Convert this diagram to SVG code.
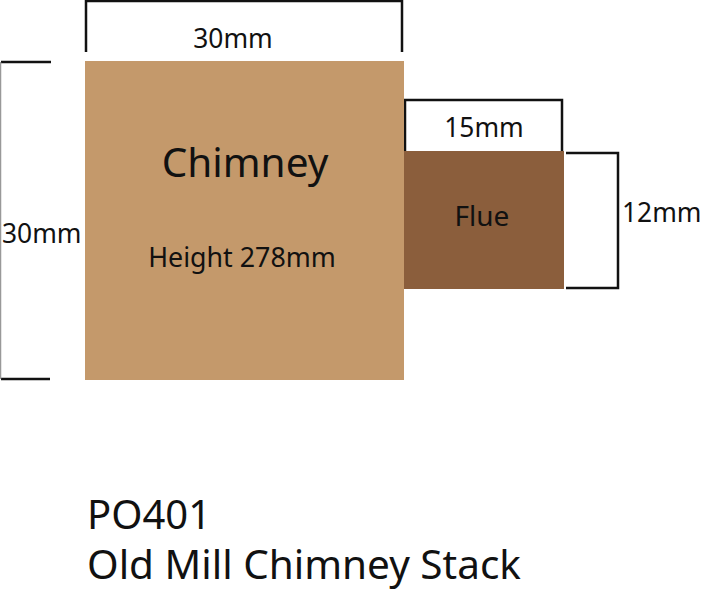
<svg xmlns="http://www.w3.org/2000/svg" width="702" height="592" viewBox="0 0 702 592">
<style>
text{font-family:"Noto Sans","Open Sans","Liberation Sans",sans-serif;fill:#111}
.dim{fill:none;stroke:#111;stroke-width:2.5}
</style>
<rect width="702" height="592" fill="#fff"/>
<g id="connectors">
<path class="dim" d="M86 52V1H402V52"/>
<path class="dim" d="M51 62H1M1 379H50"/>
<path d="M0.5 62V379" stroke="#999" stroke-width="1.5" fill="none"/>
<path class="dim" d="M405 151V100H562V152"/>
<path class="dim" d="M566 153H618V288H566"/>
</g>
<g id="chimney">
<rect x="85" y="61" width="319" height="319" fill="#C4996B"/>
<text x="245" y="177" font-size="40.5" text-anchor="middle">Chimney</text>
<text x="242" y="267" font-size="26.8" text-anchor="middle">Height 278mm</text>
</g>
<g id="flue">
<rect x="404" y="151" width="160" height="138" fill="#8B5E3C"/>
<text x="482" y="226" font-size="28" text-anchor="middle">Flue</text>
</g>
<g id="labels">
<text x="233" y="48" font-size="26.4" text-anchor="middle">30mm</text>
<text x="2" y="243" font-size="26.4">30mm</text>
<text x="484" y="137" font-size="26.4" text-anchor="middle">15mm</text>
<text x="622" y="222" font-size="26.4">12mm</text>
<text x="87" y="529" font-size="40">PO401</text>
<text x="87" y="579" font-size="40.5">Old Mill Chimney Stack</text>
</g>
</svg>
